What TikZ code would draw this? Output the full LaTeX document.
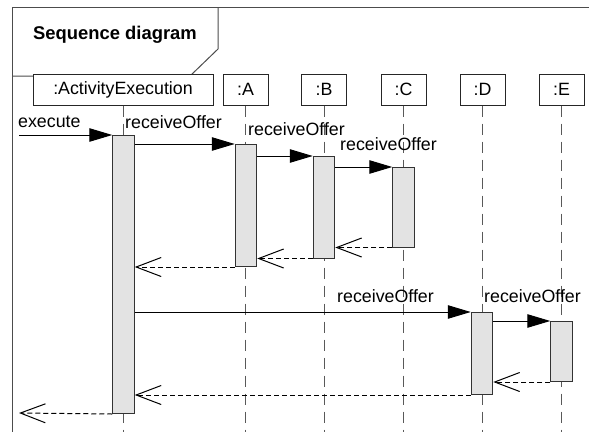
\documentclass[tikz,border=0pt]{standalone}
\usepackage{fontspec}
\setmainfont{Liberation Sans}
\usepackage{tikz}
\usetikzlibrary{calc,arrows.meta}

\begin{document}
\begin{tikzpicture}[x=1pt,y=-1pt,
    every node/.style={font=\fontsize{17.8}{20}\selectfont},
    frameline/.style={draw=black!70, line width=1pt},
    head/.style={draw=black!85, fill=white, line width=1pt, minimum height=31pt, minimum width=45pt, inner sep=0pt},
    life/.style={draw=black!65, line width=1pt, dash pattern=on 11pt off 7pt},
    bar/.style={draw=black!80, fill=black!11, line width=1pt, minimum width=21.5pt, inner sep=0pt},
    call/.style={line width=1pt, -{Triangle[length=23pt,width=13.5pt]}},
    ret/.style={line width=1pt, dash pattern=on 5pt off 3pt, -{Straight Barb[length=25pt,width=19pt,line width=1pt]}},
    lbl/.style={anchor=base west, inner sep=0pt}]
      \useasboundingbox (0,0) rectangle (589,432);
      \coordinate (bottom) at (0,432);
      \draw[frameline] (589,7.5) -- (12.5,7.5) -- (12.5,432);
      \draw[frameline] (218,7.5) -- (218,49) -- (190,76) -- (12.5,76);
      \node (title) at (115,35) [font=\fontsize{18.4}{21}\selectfont\bfseries] {Sequence diagram};
      \node (AE) at (123,89.5)  [head, minimum width=180pt] {:ActivityExecution};
      \node (A) at (245.5,89.5) [head] {:A};
      \node (B) at (324,89.5)   [head] {:B};
      \node (C) at (403.5,89.5) [head] {:C};
      \node (D) at (482.5,89.5) [head] {:D};
      \node (E) at (561.5,89.5) [head] {:E};
      \foreach \n in {AE,A,B,C,D,E}
        \draw[life] (\n.south) -- (\n.south |- bottom);
      \node (aAE) at ($(AE.south)+(0.5,169)$) [bar, minimum height=278pt] {};
      \node (aA) at ($(A.south)+(0.5,100)$)   [bar, minimum height=122pt] {};
      \node (aB) at ($(B.south)+(0,101.75)$)  [bar, minimum height=101.5pt] {};
      \node (aC) at ($(C.south)+(0,101.75)$)  [bar, minimum height=79.5pt] {};
      \node (aD) at ($(D.south)+(-0.5,248)$)  [bar, minimum height=82pt] {};
      \node (aE) at ($(E.south)+(0,246)$)     [bar, minimum height=60pt] {};
      \coordinate (in) at (19,135);
      \coordinate (out) at (19,413);
      \node (lexec) at (18,127)   [lbl] {execute};
      \node (lA) at (125,128)     [lbl] {receiveOffer};
      \node (lB) at (248,135)     [lbl] {receiveOffer};
      \node (lC) at (340,150)     [lbl] {receiveOffer};
      \node (lD) at (337,302.5)   [lbl] {receiveOffer};
      \node (lE) at (484,302.5)   [lbl] {receiveOffer};
      \draw[call] (in) -- (aAE.north west);
      \draw[call] (aAE.east |- aA.north) -- (aA.north west);
      \draw[call] (aA.east |- aB.north) -- (aB.north west);
      \draw[call] (aB.east |- aC.north) -- (aC.north west);
      \draw[call] (aAE.east |- aD.north) -- (aD.north west);
      \draw[call] (aD.east |- aE.north) -- (aE.north west);
      \draw[ret] (aC.south west) -- (aC.south west -| aB.east);
      \draw[ret] (aB.south west) -- (aB.south west -| aA.east);
      \draw[ret] (aA.south west) -- (aA.south west -| aAE.east);
      \draw[ret] (aE.south west) -- (aE.south west -| aD.east);
      \draw[ret] (aD.south west) -- (aD.south west -| aAE.east);
      \draw[ret] (aAE.south west) -- (out);
    \end{tikzpicture}
\end{document}
